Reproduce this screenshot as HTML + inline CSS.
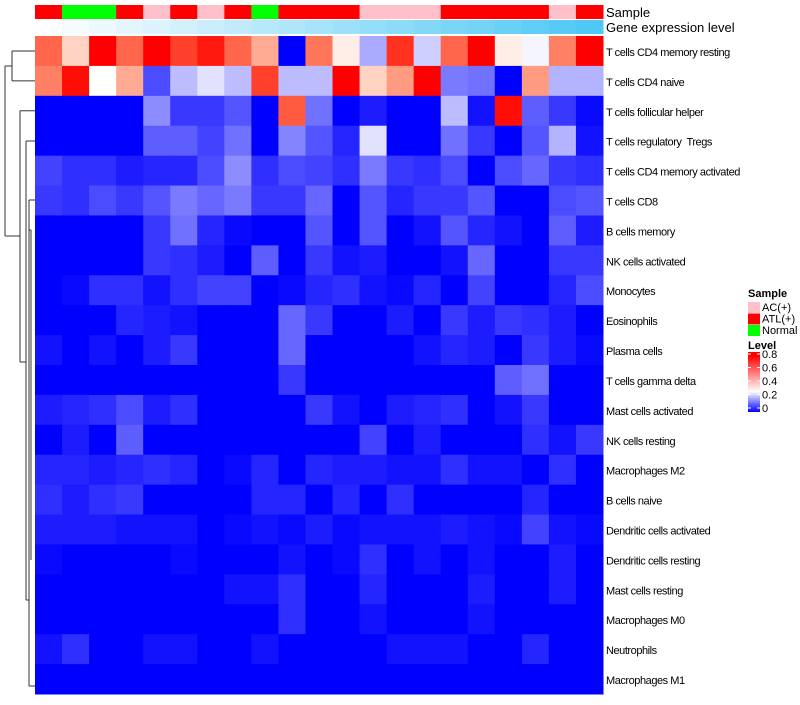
<!DOCTYPE html>
<html><head><meta charset="utf-8"><style>
body{margin:0;background:#fff;font-family:"Liberation Sans",sans-serif}
svg text{font-family:"Liberation Sans",sans-serif;white-space:pre}
</style></head><body>
<svg id="c" width="800" height="700" xmlns="http://www.w3.org/2000/svg"></svg>
<script>
const rowLabels=["T cells CD4 memory resting","T cells CD4 naive","T cells follicular helper","T cells regulatory  Tregs","T cells CD4 memory activated","T cells CD8","B cells memory","NK cells activated","Monocytes","Eosinophils","Plasma cells","T cells gamma delta","Mast cells activated","NK cells resting","Macrophages M2","B cells naive","Dendritic cells activated","Dendritic cells resting","Mast cells resting","Macrophages M0","Neutrophils","Macrophages M1"];
const sampleGroups=["ATL(+)","Normal","Normal","ATL(+)","AC(+)","ATL(+)","AC(+)","ATL(+)","Normal","ATL(+)","ATL(+)","ATL(+)","AC(+)","AC(+)","AC(+)","ATL(+)","ATL(+)","ATL(+)","ATL(+)","AC(+)","ATL(+)"];
const values=[
[0.55,0.35,0.8,0.55,0.8,0.62,0.7,0.55,0.42,0,0.52,0.3,0.18,0.65,0.22,0.55,0.8,0.3,0.26,0.5,0.8],
[0.5,0.72,0.27,0.42,0.08,0.2,0.24,0.2,0.62,0.2,0.2,0.8,0.35,0.45,0.8,0.13,0.12,0,0.45,0.19,0.19],
[0,0,0,0,0.15,0.06,0.06,0.09,0,0.57,0.12,0,0.03,0,0,0.2,0.02,0.72,0.1,0.06,0.01],
[0,0,0,0,0.1,0.1,0.07,0.12,0,0.14,0.09,0.04,0.24,0,0,0.12,0.06,0,0.09,0.19,0.02],
[0.07,0.05,0.05,0.03,0.04,0.04,0.08,0.15,0.05,0.08,0.07,0.05,0.13,0.06,0.05,0.08,0,0.08,0.11,0.06,0.05],
[0.06,0.05,0.08,0.06,0.09,0.13,0.11,0.13,0.06,0.06,0.11,0,0.09,0.04,0.06,0.06,0.09,0,0,0.08,0.09],
[0,0,0,0,0.06,0.12,0.04,0.01,0,0,0.09,0,0.09,0,0.02,0.09,0.04,0.02,0,0.1,0.03],
[0,0,0,0,0.06,0.05,0.03,0,0.1,0,0.06,0.02,0.03,0,0,0.02,0.11,0,0,0.06,0.06],
[0,0.01,0.05,0.05,0.02,0.05,0.07,0.07,0,0.01,0.04,0.05,0.02,0.01,0.04,0,0.07,0,0,0.04,0.08],
[0,0,0,0.04,0.03,0.02,0,0,0,0.11,0.06,0,0,0.03,0,0.06,0.03,0.06,0.05,0.03,0],
[0.02,0,0.02,0,0.03,0.06,0,0,0,0.11,0,0,0,0,0.02,0.04,0.03,0,0.06,0.03,0.01],
[0,0,0,0,0,0,0,0,0,0.06,0,0,0,0,0,0,0,0.1,0.12,0,0],
[0.03,0.04,0.05,0.08,0.03,0.05,0,0,0,0,0.06,0.02,0,0.03,0.04,0.05,0,0.02,0.06,0,0],
[0,0.03,0,0.1,0,0,0,0,0,0,0,0,0.07,0,0.03,0,0,0,0.05,0.02,0.06],
[0.04,0.04,0.03,0.04,0.05,0.04,0,0.01,0.04,0,0.04,0.03,0.03,0.02,0.02,0.05,0.02,0.02,0,0.05,0],
[0.05,0.03,0.05,0.06,0,0,0,0,0.04,0.04,0,0.04,0,0.05,0,0,0,0,0.04,0,0],
[0.03,0.03,0.03,0.02,0.02,0.02,0,0.01,0.02,0.01,0.03,0.01,0.02,0.02,0.02,0.03,0.02,0.01,0.07,0.02,0.01],
[0.01,0,0,0,0,0.01,0,0,0,0.02,0,0.01,0.05,0,0.02,0,0.02,0,0,0.03,0],
[0,0,0,0,0,0,0,0.02,0.02,0.05,0,0,0.04,0,0,0,0.03,0,0,0.03,0],
[0,0,0,0,0,0,0,0,0,0.05,0,0,0.02,0,0,0,0.02,0,0,0,0],
[0.02,0.05,0,0,0.02,0.02,0,0,0.02,0,0,0,0,0.02,0.02,0.02,0,0,0.04,0,0],
[0,0,0,0,0,0,0,0,0,0,0,0,0,0,0,0,0,0,0,0,0]
];
const legendTicks=["0","0.2","0.4","0.6","0.8"];
const sampleColors={"AC(+)":"#ffc0cb","ATL(+)":"#ff0000","Normal":"#00ff00"};

const svg=document.getElementById('c');const NS="http://www.w3.org/2000/svg";
function mk(t,a,p){const e=document.createElementNS(NS,t);for(const k in a)e.setAttribute(k,a[k]);(p||svg).appendChild(e);return e;}
const X0=35,X1=603,Y0=36,Y1=694;
const nC=values[0].length,nR=values.length,cw=(X1-X0)/nC,rh=(Y1-Y0)/nR;
const xPos=j=>X0+j*cw, yPos=i=>Y0+i*rh;
function col(v){const w=0.27,r=0.75;let R,G,B;
 if(v<=w){const t=v/w;R=255*t;G=255*t;B=255;}else{const t=Math.min(1,(v-w)/(r-w));R=255;G=255*(1-t)*(1-0.3*t)+60*t*(1-t);B=255*(1-t)*(1-0.5*t);}
 return `rgb(${R|0},${Math.max(0,G)|0},${Math.max(0,B)|0})`;}
for(let i=0;i<nR;i++)for(let j=0;j<nC;j++){
 const e=mk('rect',{x:xPos(j),y:yPos(i),width:cw+0.5,height:rh+0.5,fill:col(values[i][j])});
 
 
}
for(let i=0;i<nR;i++){const t=mk('text',{x:606,y:yPos(i)+rh/2+5,'font-size':11,'letter-spacing':'-0.45',fill:'#000'});t.textContent=rowLabels[i];
 }
for(let j=0;j<nC;j++){
 const s=mk('rect',{x:xPos(j),y:5,width:cw+0.5,height:14,fill:sampleColors[sampleGroups[j]]});
 
 const t=j/(nC-1);
 const g=mk('rect',{x:xPos(j),y:20,width:cw+0.5,height:14,fill:`rgb(${(255-176*t)|0},${(255-55*t)|0},${(255-10*t)|0})`});
 
}
let a=mk('text',{x:606,y:17,'font-size':13});a.textContent="Sample";
a=mk('text',{x:606,y:32,'font-size':13});a.textContent="Gene expression level";
// dendrogram
const yc=i=>yPos(i)+rh/2;
const segs=[[12,yc(0),12,yc(1)],[12,yc(0),35,yc(0)],[12,yc(1),35,yc(1)],
[5,66,12,66],[5,66,5,236],[5,236,20,236],
[20,yc(2),35,yc(2)],[20,yc(2),20,362],[20,362,26,362],
[26,141,35,141],[26,141,26,600],[26,600,29,600],
[29,200,29,686],[29,200,35,200],[29,686,35,686],[31,230,31,560],[29,230,31,230]];
segs.forEach(s=>{const l=mk('line',{x1:s[0],y1:s[1],x2:s[2],y2:s[3],stroke:'#333','stroke-width':1});});
// legend
const lg=mk('g',{});
let t=mk('text',{x:748,y:297,'font-size':11,'font-weight':'bold'},lg);t.textContent="Sample";
Object.keys(sampleColors).forEach((k,i)=>{mk('rect',{x:748,y:302+i*11.5,width:12,height:11,fill:sampleColors[k]},lg);
 const tt=mk('text',{x:762,y:311+i*11.5,'font-size':11},lg);tt.textContent=k;
 });
t=mk('text',{x:748,y:349,'font-size':11,'font-weight':'bold'},lg);t.textContent="Level";
const defs=mk('defs',{});const gr=mk('linearGradient',{id:'lv',x1:0,y1:1,x2:0,y2:0},defs);
mk('stop',{offset:'0','stop-color':'#0000ff'},gr);mk('stop',{offset:'0.34','stop-color':'#ffffff'},gr);mk('stop',{offset:'0.94','stop-color':'#ff0000'},gr);mk('stop',{offset:'1','stop-color':'#ff0000'},gr);
mk('rect',{x:748,y:352,width:12,height:60,fill:'url(#lv)'},lg);
legendTicks.forEach((k,i)=>{const y=408-i*13.5;const tt=mk('text',{x:762,y:y+4,'font-size':11},lg);tt.textContent=k;
 
 mk('line',{x1:748,y1:y,x2:751,y2:y,stroke:'#fff'},lg);mk('line',{x1:757,y1:y,x2:760,y2:y,stroke:'#fff'},lg);});
</script>
</body></html>
